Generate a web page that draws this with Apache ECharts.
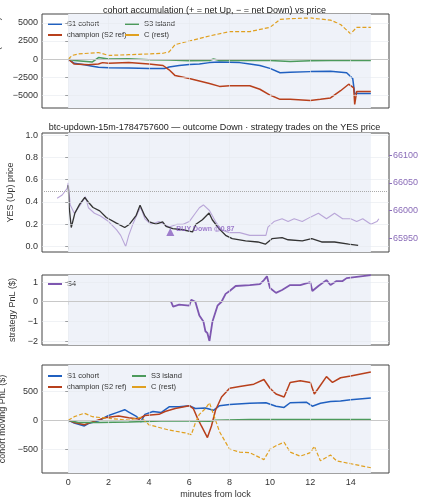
<!DOCTYPE html>
<html><head><meta charset="utf-8">
<script src="https://cdn.jsdelivr.net/npm/echarts@6/dist/echarts.min.js"></script>
<style>html,body{margin:0;padding:0;background:#fff}#c{width:429px;height:500px}</style>
</head><body><div id="c"></div>
<script>
// ---- data ----
const xTicks=[0,2,4,6,8,10,12,14];
const accS1=[[0,0],[0.3,-600],[0.8,-800],[1.2,-1000],[1.5,-1150],[2,-1200],[3,-1250],[4,-1300],[4.8,-1300],[5,-1100],[5.5,-900],[6,-750],[6.5,-700],[7,-500],[7.5,-400],[8,-450],[8.5,-500],[9,-700],[9.5,-900],[10,-1300],[10.5,-1900],[11,-1850],[12,-1750],[13,-1700],[13.8,-1900],[14.1,-2700],[14.2,-4800],[15,-4800]];
const accChamp=[[0,0],[0.3,-700],[1,-800],[1.5,-700],[1.7,-500],[2,-600],[3,-500],[4,-700],[4.7,-900],[5,-1500],[5.3,-2300],[6,-2700],[7,-3400],[7.5,-3800],[8,-3700],[9,-3700],[9.5,-4200],[10,-5000],[10.5,-5600],[11,-5600],[12,-5750],[12.5,-5600],[13,-5400],[13.5,-4400],[13.9,-3500],[14.15,-4000],[14.2,-6300],[14.3,-4500],[15,-4500]];
const accS3=[[0,0],[0.3,-200],[1.2,-400],[1.5,200],[2,0],[3,50],[4,-100],[5,-150],[6,-250],[7,-200],[7.2,0],[7.5,-200],[10,-200],[11,-350],[12,-250],[13,-200],[15,-200]];
const accC=[[0,0],[0.2,500],[0.5,700],[1,800],[1.5,900],[2,500],[3,600],[4,700],[4.7,800],[5,1000],[5.3,2000],[6,2500],[7,3200],[8,3800],[9,3800],[10,4400],[10.5,5500],[11,5600],[12,5700],[13,5400],[13.5,4800],[14,3500],[14.3,4400],[15,4400]];
const yesPrice=[[0,0.55],[0.05,0.35],[0.15,0.17],[0.33,0.3],[0.57,0.38],[0.82,0.44],[0.99,0.4],[1.23,0.35],[1.56,0.32],[1.89,0.26],[2.39,0.21],[2.8,0.17],[3.04,0.2],[3.37,0.28],[3.56,0.37],[3.78,0.28],[4.02,0.22],[4.35,0.2],[4.68,0.22],[4.85,0.18],[5.18,0.16],[5.67,0.15],[6.16,0.13],[6.33,0.2],[6.65,0.24],[6.98,0.3],[7.14,0.24],[7.47,0.16],[7.8,0.1],[8.13,0.07],[8.79,0.05],[9.4,0.04],[9.77,0.02],[10.1,0.07],[10.6,0.08],[10.9,0.06],[11.6,0.05],[12.07,0.07],[12.56,0.04],[13.2,0.04],[13.9,0.02],[14.37,0.01]];
const btc=[[-0.55,66022],[-0.3,66028],[-0.05,66040],[0,66050],[0.1,66010],[0.3,65995],[0.6,66010],[0.85,66025],[1.0,66005],[1.3,65995],[1.6,65990],[2,65980],[2.4,65965],[2.6,65955],[2.85,65935],[3.0,65955],[3.2,65975],[3.5,66000],[3.6,66005],[3.8,65985],[4.1,65975],[4.5,65980],[5.0,65970],[5.4,65975],[5.7,65975],[6.0,65980],[6.3,65995],[6.5,66005],[6.7,66010],[7.0,66000],[7.3,65980],[7.6,65965],[8.0,65960],[8.5,65960],[9,65955],[9.5,65955],[9.8,65955],[9.9,65970],[10.2,65980],[10.6,65985],[10.9,65980],[11.2,65985],[11.6,65980],[12.0,65988],[12.4,65995],[12.8,65985],[13.2,65995],[13.6,65985],[14,65985],[14.3,65980],[14.6,65985],[15,65975],[15.3,65980],[15.4,65985]];
const trade=[[5.06,0.13]];
const tradeLabel='BUY Down @0.87';
const pnlS4=[[5.1,0],[5.2,-0.25],[5.5,-0.15],[6,-0.2],[6.1,0.1],[6.3,0],[6.5,-0.7],[6.7,-1.0],[6.8,-1.5],[6.9,-1.6],[7.0,-2.0],[7.15,-1.0],[7.4,-0.2],[7.6,0],[7.8,0.4],[8,0.55],[8.3,0.8],[9,0.85],[9.5,0.9],[9.7,1.1],[9.85,1.3],[10,0.7],[10.3,0.45],[10.6,0.6],[11,0.85],[11.5,0.85],[12,1.0],[12.1,0.55],[12.4,0.8],[12.8,1.1],[13,0.85],[13.3,1.05],[13.6,1.05],[13.8,1.2],[14.2,1.25],[14.6,1.3],[15,1.35]];
const mS1=[[0,0],[0.3,-50],[0.8,-100],[1.0,-60],[1.5,-10],[2.0,80],[2.4,130],[2.8,180],[3.0,140],[3.4,60],[3.6,-30],[3.8,100],[4.2,150],[4.6,130],[5.0,230],[5.5,230],[6.0,250],[6.3,200],[6.8,210],[7.2,170],[7.5,250],[8,270],[9,290],[9.8,300],[10.3,240],[10.7,220],[11,300],[11.8,310],[12.1,240],[12.5,290],[13,320],[13.5,330],[14,350],[15,380]];
const mChamp=[[0,0],[0.3,-40],[0.8,-80],[1.2,-30],[1.8,40],[2.5,70],[3,40],[3.5,20],[3.8,80],[4.5,100],[4.8,150],[5.3,200],[6,250],[6.2,200],[6.4,40],[6.6,-100],[6.9,-300],[7.1,-100],[7.3,170],[7.6,400],[8,550],[8.5,580],[9.2,620],[9.7,700],[10,550],[10.3,450],[10.7,400],[11,650],[11.5,680],[12,650],[12.2,450],[12.4,550],[12.8,750],[13.1,650],[13.5,730],[14,760],[15,830]];
const mS3=[[0,0],[0.5,-40],[1.5,-40],[3,-30],[5,-10],[7,-20],[7.3,0],[9,10],[12,10],[15,10]];
const mC=[[0,0],[0.3,60],[0.8,120],[1.2,60],[2,30],[3,0],[3.6,50],[4,-80],[5,-170],[5.8,-220],[6.1,-250],[6.3,-50],[6.5,100],[6.8,200],[7.0,300],[7.2,100],[7.5,-200],[8,-500],[8.5,-550],[9,-560],[9.7,-680],[10,-500],[10.3,-440],[10.7,-380],[11,-550],[11.5,-620],[12,-560],[12.2,-450],[12.5,-700],[13,-600],[13.3,-700],[14,-750],[15,-820]];
const y1Ticks=[-5000,-2500,0,2500,5000];
const y2Ticks=[0,0.2,0.4,0.6,0.8,1.0];
const y2rTicks=[65950,66000,66050,66100];
const y3Ticks=[-2,-1,0,1];
const y4Ticks=[-500,0,500];

const C={s1:'#2060c0',ch:'#b8401c',s3:'#4c9a5c',c:'#e0a020',btc:'#b9a6d8',s4:'#7e57b0',ax:'#333'};
const tops=[14,133,275,365],hts=[94,119,70,108];
const grid=tops.map((t,i)=>({left:42,right:40,top:t,height:hts[i],show:true,backgroundColor:'#fff',borderColor:'#444',borderWidth:1,containLabel:false,outerBoundsMode:'none'}));
const ylim=[[-6800,6250],[-0.05,1.02],[-2.2,1.36],[-910,950]];
const yt=[y1Ticks,y2Ticks,y3Ticks,y4Ticks];
const ynames=['acc. net YES (shares)','YES (Up) price','strategy PnL ($)','cohort moving PnL ($)'];
const xAxis=[0,1,2,3].map(i=>({type:'value',gridIndex:i,min:-1.3,max:15.9,splitLine:{show:false},
  axisLine:{show:false},axisTick:{show:true,customValues:xTicks,length:3,lineStyle:{color:'#333'}},
  axisLabel:{show:i===3,customValues:xTicks,fontSize:9,color:'#333',margin:5},
  name:i===3?'minutes from lock':'',nameLocation:'middle',nameGap:17,nameTextStyle:{fontSize:9,color:'#333'}}));
const fmt=v=>v<0?'\u2212'+Math.abs(v):(Number.isInteger(v)?String(v):v.toFixed(1));
const yAxis=[0,1,2,3].map(i=>({type:'value',gridIndex:i,min:ylim[i][0],max:ylim[i][1],splitLine:{show:false},
  axisLine:{show:false},axisTick:{show:true,customValues:yt[i],length:3,lineStyle:{color:'#333'}},
  axisLabel:{customValues:yt[i],fontSize:9,color:'#333',margin:4,formatter:v=>i===1?v.toFixed(1):fmt(v)},
  name:ynames[i],nameLocation:'middle',nameGap:i===0?31:(i===1?24:20),nameTextStyle:{fontSize:9,color:'#333'}}));
yAxis.push({type:'value',gridIndex:1,position:'right',min:65925,max:66140,splitLine:{show:false},axisLine:{show:false},
  axisTick:{show:true,customValues:y2rTicks,length:3,lineStyle:{color:'#8a6cb8'}},
  axisLabel:{customValues:y2rTicks,fontSize:9,color:'#8a6cb8',margin:4,formatter:v=>String(v)},
  name:'BTC/USD (strike dotted = YES 0.5)',nameLocation:'middle',nameGap:33,nameRotate:-90,nameTextStyle:{fontSize:8,color:'#a48cc8'}});
const series=[];
[0,1,2,3].forEach(i=>{
  const ml=xTicks.map(x=>({xAxis:x})).concat(yt[i].map(y=>({yAxis:y,lineStyle:{color:y===0&&i!==1?'#c8c8c8':'#e6e9ef',type:'solid',width:y===0&&i!==1?1:0.6}})));
  if(i===1) ml.push({yAxis:0.5,lineStyle:{color:'#aaa',type:'dotted',width:1}});
  series.push({type:'line',xAxisIndex:i,yAxisIndex:i,data:[],silent:true,
    markArea:{silent:true,itemStyle:{color:'#eff2f9'},data:[[{xAxis:0,yAxis:ylim[i][0]},{xAxis:15,yAxis:ylim[i][1]}]]},
    markLine:{silent:true,symbol:'none',label:{show:false},lineStyle:{color:'#e6e9ef',type:'solid',width:0.6},data:ml}});
});
const L=(name,data,xi,yi,color,dashed,w)=>({name,type:'line',xAxisIndex:xi,yAxisIndex:yi,data,showSymbol:false,symbol:'none',
  lineStyle:{color,width:w||1.5,type:dashed?[4,2]:'solid'},itemStyle:{color},z:3});
series.push(L('S1 cohort',accS1,0,0,C.s1),L('champion (S2 ref)',accChamp,0,0,C.ch),L('S3 island',accS3,0,0,C.s3),L('C (rest)',accC,0,0,C.c,true,1.2));
series.push(Object.assign(L('btc',btc,1,4,C.btc,false,1.1),{z:2}));
series.push(L('yes',yesPrice,1,1,'#333',false,1.3));
series.push({type:'scatter',xAxisIndex:1,yAxisIndex:1,data:trade,symbol:'triangle',symbolSize:8,itemStyle:{color:'#8a5fc0'},z:5,
  label:{show:true,position:'right',distance:2,formatter:tradeLabel,fontSize:7,fontWeight:'bold',color:'#8a5fc0',offset:[0,-3]}});
series.push(L('S4',pnlS4,2,2,C.s4,false,1.8));
series.push(L('S1 cohort',mS1,3,3,C.s1),L('champion (S2 ref)',mChamp,3,3,C.ch),L('S3 island',mS3,3,3,C.s3),L('C (rest)',mC,3,3,C.c,true,1.2));
const lg=(names,left,top)=>({data:names,left,top,orient:'vertical',itemWidth:14,itemHeight:2,itemGap:3,icon:'rect',
  textStyle:{fontSize:7.5,color:'#333'},padding:0,selectedMode:false});
const option={animation:false,
  title:[{text:'cohort accumulation (+ = net Up, \u2212 = net Down) vs price',left:'center',top:1,textStyle:{fontSize:9,fontWeight:'normal',color:'#222'}},
    {text:'btc-updown-15m-1784757600 \u2014 outcome Down \u00b7 strategy trades on the YES price',left:'center',top:118,textStyle:{fontSize:9,fontWeight:'normal',color:'#222'}}],
  grid,xAxis,yAxis,series,
  legend:[lg(['S1 cohort','champion (S2 ref)'],48,20),lg(['S3 island','C (rest)'],125,20),lg(['S4'],48,280),
    lg(['S1 cohort','champion (S2 ref)'],48,372),lg(['S3 island','C (rest)'],132,372)]};
echarts.init(document.getElementById('c')).setOption(option);
</script></body></html>
